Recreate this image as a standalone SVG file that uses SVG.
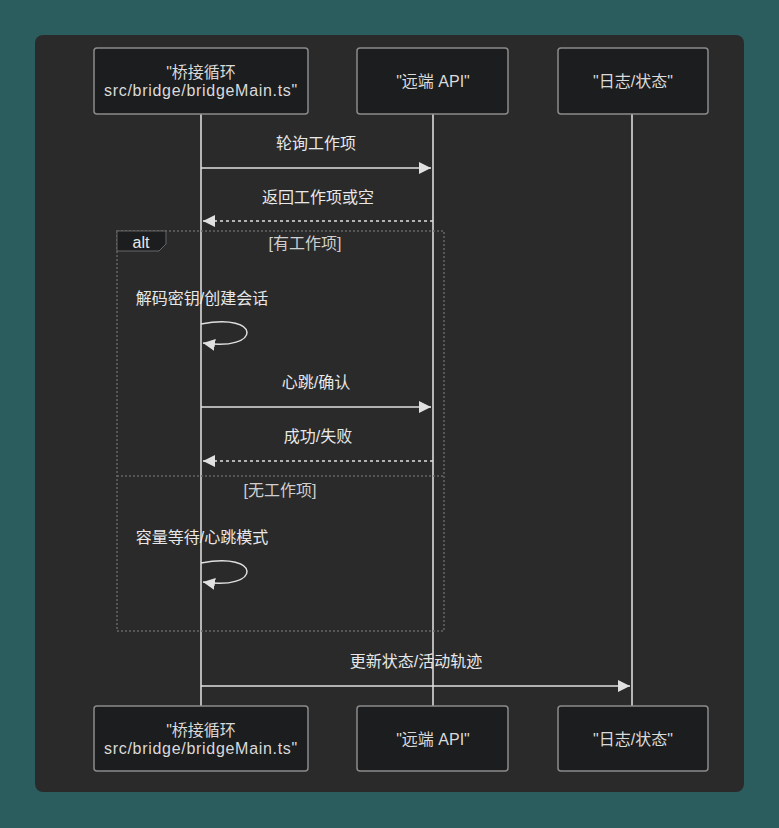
<svg xmlns="http://www.w3.org/2000/svg" width="779" height="828" viewBox="0 0 779 828">
<defs>
<style>
.actor{fill:#1c1d1e;stroke:#8a8a8a;stroke-width:1.5}
.atext{fill:#dadada;font-family:"Liberation Sans","Noto Sans CJK SC",sans-serif;font-size:16px;text-anchor:middle;dominant-baseline:central}
.src{letter-spacing:0.7px}
.life{stroke:#e6e6e6;stroke-width:1.5}
.msg{stroke:#e0e0e0;stroke-width:1.5;fill:none}
.dash{stroke-dasharray:3,3}
.mtext{fill:#e8e8e8;font-family:"Liberation Sans","Noto Sans CJK SC",sans-serif;font-size:16px;text-anchor:middle;dominant-baseline:central}
.frame{fill:none;stroke:#666;stroke-width:1.5;stroke-dasharray:2,2}
.ftext{fill:#cfcfcf;font-family:"Liberation Sans","Noto Sans CJK SC",sans-serif;font-size:16px;text-anchor:middle;dominant-baseline:central}
</style>
<marker id="arr" viewBox="0 0 10 10" refX="10" refY="5" markerWidth="12" markerHeight="12" markerUnits="userSpaceOnUse" orient="auto-start-reverse">
<path d="M0,0 L10,5 L0,10 z" fill="#e0e0e0"/>
</marker>
</defs>
<rect width="779" height="828" fill="#2b5d5e"/>
<rect x="35" y="35" width="709" height="757" rx="8" fill="#2a2a2a"/>
<g id="lifelines">
<line class="life" x1="201" y1="114" x2="201" y2="706"/>
<line class="life" x1="433" y1="114" x2="433" y2="706"/>
<line class="life" x1="632" y1="114" x2="632" y2="706"/>
</g>
<g id="alt-frame">
<rect class="frame" x="117" y="231" width="327" height="400"/>
<line class="frame" x1="117" y1="476" x2="444" y2="476"/>
<path d="M117,231 H166 V244 L159,251 H117 Z" fill="#1c1d1e" stroke="#666" stroke-width="1"/>
<text class="ftext" x="141" y="242" style="fill:#e8e8e8">alt</text>
<text class="ftext" x="305" y="243">[有工作项]</text>
<text class="ftext" x="280" y="490">[无工作项]</text>
</g>
<g id="connectors">
<line class="msg" x1="201" y1="168" x2="431" y2="168" marker-end="url(#arr)"/>
<text class="mtext" x="316" y="143">轮询工作项</text>
<line class="msg dash" x1="433" y1="221" x2="203" y2="221" marker-end="url(#arr)"/>
<text class="mtext" x="318" y="197">返回工作项或空</text>
<text class="mtext" x="202" y="298">解码密钥/创建会话</text>
<path class="msg" d="M201,324 C262,312 262,352 203,343" marker-end="url(#arr)"/>
<line class="msg" x1="201" y1="407" x2="431" y2="407" marker-end="url(#arr)"/>
<text class="mtext" x="316" y="382">心跳/确认</text>
<line class="msg dash" x1="433" y1="461" x2="203" y2="461" marker-end="url(#arr)"/>
<text class="mtext" x="318" y="436">成功/失败</text>
<text class="mtext" x="202" y="537">容量等待/心跳模式</text>
<path class="msg" d="M201,563 C262,551 262,591 203,582" marker-end="url(#arr)"/>
<line class="msg" x1="201" y1="686" x2="630" y2="686" marker-end="url(#arr)"/>
<text class="mtext" x="416" y="661">更新状态/活动轨迹</text>
</g>
<g id="actor-bridge-top">
<rect class="actor" x="94" y="48" width="214" height="66" rx="3"/>
<text class="atext" x="201" y="72">"桥接循环</text>
<text class="atext src" x="201" y="90">src/bridge/bridgeMain.ts"</text>
</g>
<g id="actor-api-top">
<rect class="actor" x="357" y="48" width="151" height="66" rx="3"/>
<text class="atext" x="433" y="81">"远端 API"</text>
</g>
<g id="actor-log-top">
<rect class="actor" x="558" y="48" width="150" height="66" rx="3"/>
<text class="atext" x="633" y="81">"日志/状态"</text>
</g>
<g id="actor-bridge-bottom">
<rect class="actor" x="94" y="706" width="214" height="65" rx="3"/>
<text class="atext" x="201" y="730">"桥接循环</text>
<text class="atext src" x="201" y="748">src/bridge/bridgeMain.ts"</text>
</g>
<g id="actor-api-bottom">
<rect class="actor" x="357" y="706" width="151" height="65" rx="3"/>
<text class="atext" x="433" y="739">"远端 API"</text>
</g>
<g id="actor-log-bottom">
<rect class="actor" x="558" y="706" width="150" height="65" rx="3"/>
<text class="atext" x="633" y="739">"日志/状态"</text>
</g>
</svg>
